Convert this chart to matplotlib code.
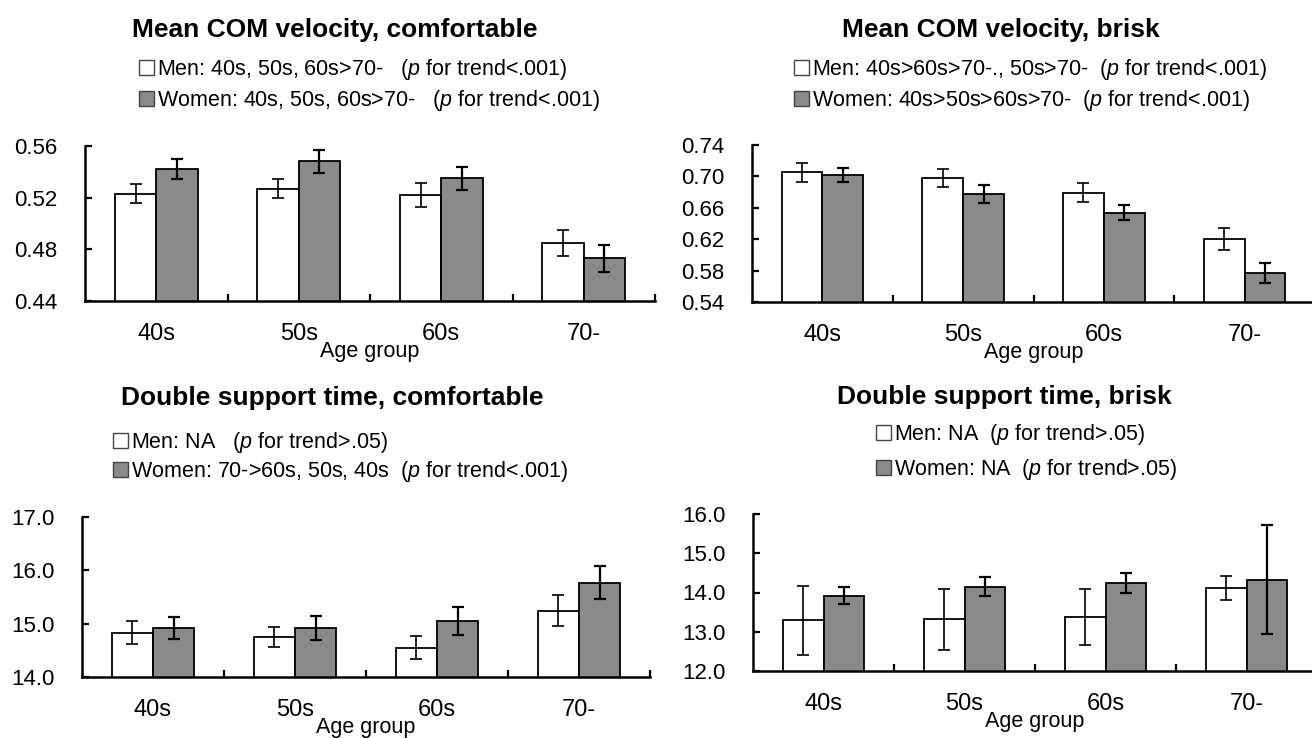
import numpy as np
import matplotlib
matplotlib.use("Agg")
import matplotlib.pyplot as plt
from matplotlib.patches import Patch

plt.rcParams["font.family"] = ["Liberation Sans", "DejaVu Sans"]
plt.rcParams["mathtext.fontset"] = "custom"
plt.rcParams["mathtext.it"] = "Liberation Sans:italic"
plt.rcParams["mathtext.rm"] = "Liberation Sans"

groups = ["40s", "50s", "60s", "70-"]

# Mean COM velocity, comfortable
com_comf_men = [0.523, 0.527, 0.522, 0.485]
com_comf_men_err = [0.0075, 0.0073, 0.0091, 0.0102]
com_comf_women = [0.542, 0.548, 0.535, 0.473]
com_comf_women_err = [0.0078, 0.0089, 0.0090, 0.0102]

# Mean COM velocity, brisk
com_brisk_men = [0.705, 0.698, 0.679, 0.620]
com_brisk_men_err = [0.012, 0.011, 0.012, 0.014]
com_brisk_women = [0.702, 0.677, 0.654, 0.577]
com_brisk_women_err = [0.0085, 0.0115, 0.010, 0.013]

# Double support time, comfortable
ds_comf_men = [14.83, 14.75, 14.55, 15.24]
ds_comf_men_err = [0.22, 0.185, 0.22, 0.29]
ds_comf_women = [14.92, 14.92, 15.05, 15.77]
ds_comf_women_err = [0.21, 0.22, 0.27, 0.31]

# Double support time, brisk
ds_brisk_men = [13.29, 13.32, 13.37, 14.12]
ds_brisk_men_err = [0.88, 0.78, 0.72, 0.305]
ds_brisk_women = [13.92, 14.15, 14.24, 14.33]
ds_brisk_women_err = [0.21, 0.24, 0.26, 1.38]

W, H = 1312, 738
GRAY = "#8a8a8a"

panels = [
    dict(title="Mean COM velocity, comfortable",
         men=com_comf_men, men_err=com_comf_men_err,
         women=com_comf_women, women_err=com_comf_women_err,
         ylim=(0.44, 0.56), yticks=np.arange(0.44, 0.5601, 0.04), fmt="{:.2f}",
         box=(85, 655, 146, 301), title_xy=(335, 30), leg_xy=(139, 57), spacing=0.3,
         leg=[r"Men: 40s, 50s, 60s>70-   ($p$ for trend<.001)",
              r"Women: 40s, 50s, 60s>70-   ($p$ for trend<.001)"]),
    dict(title="Mean COM velocity, brisk",
         men=com_brisk_men, men_err=com_brisk_men_err,
         women=com_brisk_women, women_err=com_brisk_women_err,
         ylim=(0.54, 0.74), yticks=np.arange(0.54, 0.7401, 0.04), fmt="{:.2f}",
         box=(752, 1315, 145, 302), title_xy=(1001, 30), leg_xy=(794, 57), spacing=0.3,
         leg=[r"Men: 40s>60s>70-., 50s>70-  ($p$ for trend<.001)",
              r"Women: 40s>50s>60s>70-  ($p$ for trend<.001)"]),
    dict(title="Double support time, comfortable",
         men=ds_comf_men, men_err=ds_comf_men_err,
         women=ds_comf_women, women_err=ds_comf_women_err,
         ylim=(14.0, 17.0), yticks=np.arange(14.0, 17.01, 1.0), fmt="{:.1f}",
         box=(82, 650, 517, 677), title_xy=(332, 398), leg_xy=(113, 430), spacing=0.18,
         leg=[r"Men: NA   ($p$ for trend>.05)",
              r"Women: 70->60s, 50s, 40s  ($p$ for trend<.001)"]),
    dict(title="Double support time, brisk",
         men=ds_brisk_men, men_err=ds_brisk_men_err,
         women=ds_brisk_women, women_err=ds_brisk_women_err,
         ylim=(12.0, 16.0), yticks=np.arange(12.0, 16.01, 1.0), fmt="{:.1f}",
         box=(753, 1317, 514, 671), title_xy=(1004, 397), leg_xy=(876, 422), spacing=0.45,
         leg=[r"Men: NA  ($p$ for trend>.05)",
              r"Women: NA  ($p$ for trend>.05)"]),
]

fig = plt.figure(figsize=(W / 100, H / 100), dpi=100)

x = np.arange(len(groups))
bw = 0.29

for p in panels:
    l, r, t, b = p["box"]
    ax = fig.add_axes([l / W, 1 - b / H, (r - l) / W, (b - t) / H])
    ax.bar(x - bw / 2, p["men"], bw, color="white", edgecolor="black", linewidth=1.3, zorder=2)
    ax.bar(x + bw / 2, p["women"], bw, color=GRAY, edgecolor="black", linewidth=1.3, zorder=2)
    ax.errorbar(x - bw / 2, p["men"], yerr=p["men_err"], fmt="none", ecolor="black",
                elinewidth=1.2, capsize=4, capthick=1.2, zorder=3)
    ax.errorbar(x + bw / 2, p["women"], yerr=p["women_err"], fmt="none", ecolor="black",
                elinewidth=1.6, capsize=4, capthick=1.6, zorder=3)

    ax.set_xlim(-0.5, len(groups) - 0.5)
    ax.set_ylim(*p["ylim"])
    ax.set_yticks(p["yticks"])
    ax.set_yticklabels([p["fmt"].format(v) for v in p["yticks"]])
    ax.set_xticks(x)
    ax.set_xticklabels(groups)
    ax.set_xticks(np.arange(0.5, len(groups), 1.0), minor=True)
    ax.tick_params(axis="x", which="major", length=0, pad=16, labelsize=17)
    ax.tick_params(axis="x", which="minor", direction="in", length=5, width=1.6)
    ax.tick_params(axis="y", direction="in", length=5, width=1.6, pad=20, labelsize=16)
    ax.set_xlabel("Age group", fontsize=15.5, labelpad=-3)

    for s in ["top", "right"]:
        ax.spines[s].set_visible(False)
    for s in ["left", "bottom"]:
        ax.spines[s].set_linewidth(1.8)
    ax.set_facecolor("none")

    tx, ty = p["title_xy"]
    fig.text(tx / W, 1 - ty / H, p["title"], ha="center", va="center",
             fontsize=19, fontweight="bold")

    handles = [Patch(facecolor="white", edgecolor="#444444", linewidth=1.0, label=p["leg"][0]),
               Patch(facecolor=GRAY, edgecolor="#444444", linewidth=1.0, label=p["leg"][1])]
    lx, ly = p["leg_xy"]
    ax.legend(handles=handles, loc="upper left", bbox_to_anchor=(lx / W, 1 - ly / H),
              bbox_transform=fig.transFigure, frameon=False, fontsize=15.5,
              handlelength=0.7, handleheight=0.7, handletextpad=0.12,
              borderpad=0, borderaxespad=0, labelspacing=p["spacing"])

fig.savefig("out.png", dpi=100)
